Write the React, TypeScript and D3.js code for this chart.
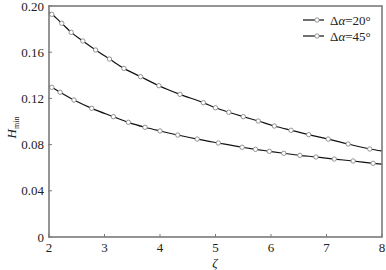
import React from 'react';
import * as d3 from 'd3';

// marker positions (zeta, Hmin)
const zeta20 = [2.05, 2.23, 2.4, 2.61, 2.84, 3.09, 3.35, 3.65, 3.98, 4.36, 4.78, 5.0, 5.24, 5.5, 5.77, 6.06, 6.36, 6.68, 7.03, 7.39, 7.78];
const h20 = [0.1928, 0.185, 0.1772, 0.1697, 0.1619, 0.1541, 0.146, 0.1388, 0.131, 0.1235, 0.1163, 0.1119, 0.108, 0.1042, 0.1004, 0.0961, 0.0924, 0.0886, 0.0848, 0.0805, 0.0762];
const zeta45 = [2.05, 2.2, 2.45, 2.77, 3.16, 3.43, 3.73, 4.0, 4.32, 4.67, 5.05, 5.48, 5.72, 5.97, 6.23, 6.52, 6.81, 7.14, 7.48, 7.84];
const h45 = [0.1296, 0.1253, 0.1186, 0.1114, 0.1042, 0.0993, 0.095, 0.0918, 0.0883, 0.0848, 0.0814, 0.0777, 0.0759, 0.0742, 0.0725, 0.0707, 0.0693, 0.0675, 0.0658, 0.0638];
// curve ends at the frame edges
const ends20 = [[2.0, 0.1945], [8.0, 0.0745]];
const ends45 = [[2.0, 0.1308], [8.0, 0.063]];

const xTicks = [2, 3, 4, 5, 6, 7, 8];
const yTicks = [0, 0.04, 0.08, 0.12, 0.16, 0.2];
const yTickLabels = ['0', '0.04', '0.08', '0.12', '0.16', '0.20'];
const seriesNames = ['20°', '45°'];

const W = 386, H = 270;
const margin = { top: 6, right: 4, bottom: 33, left: 49 };

const x = d3.scaleLinear().domain([2, 8]).range([margin.left, W - margin.right]);
const y = d3.scaleLinear().domain([0, 0.2]).range([H - margin.bottom, margin.top]);

const font = '"Liberation Serif", "Times New Roman", serif';
const axisColor = '#7a7a7a';

const line = d3.line<number[]>()
    .x(d => x(d[0]))
    .y(d => y(d[1]))
    .curve(d3.curveMonotoneX);

function pts(xs: number[], ys: number[], ends: number[][]) {
    return [ends[0], ...xs.map((v, i) => [v, ys[i]]), ends[1]];
}

const series = [
    { xs: zeta20, ys: h20, ends: ends20 },
    { xs: zeta45, ys: h45, ends: ends45 },
];

export default function App() {
    const x0 = x.range()[0], x1 = x.range()[1];
    const y0 = y.range()[0], y1 = y.range()[1];

    return (
        <svg width={W} height={H} style={{ position: 'absolute', left: 0, top: 0, background: '#fff' }}>
            {/* curves */}
            {series.map((s, i) => (
                <path key={'l' + i} d={line(pts(s.xs, s.ys, s.ends)) || ''} fill="none" stroke="#111" strokeWidth={1.2} />
            ))}
            {series.map((s, i) => (
                <g key={'m' + i}>
                    {s.xs.map((v, j) => (
                        <circle key={j} cx={x(v)} cy={y(s.ys[j])} r={2.2} fill="#fff" stroke="#888" strokeWidth={0.9} />
                    ))}
                </g>
            ))}

            {/* frame */}
            <rect x={x0} y={y1} width={x1 - x0} height={y0 - y1} fill="none" stroke={axisColor} strokeWidth={1.6} />

            {/* x ticks */}
            {xTicks.map(t => (
                <g key={'x' + t}>
                    <line x1={x(t)} x2={x(t)} y1={y0} y2={y0 - 3} stroke={axisColor} strokeWidth={1} />
                    <text x={x(t)} y={y0 + 15} textAnchor="middle" fontFamily={font} fontSize={13} fill="#222">{t}</text>
                </g>
            ))}
            {/* y ticks */}
            {yTicks.map((t, i) => (
                <g key={'y' + t}>
                    <line x1={x0 - 1} x2={x0 + 3} y1={y(t)} y2={y(t)} stroke={axisColor} strokeWidth={1} />
                    <text x={x0 - 5} y={y(t) + 4.5} textAnchor="end" fontFamily={font} fontSize={13} fill="#222">{yTickLabels[i]}</text>
                </g>
            ))}

            {/* axis titles */}
            <text x={215} y={267} textAnchor="middle" fontFamily={font} fontSize={13} fontStyle="italic" fill="#222">ζ</text>
            <text transform={`translate(16, ${y(0.1) + 6}) rotate(-90)`} textAnchor="middle" fontFamily={font} fontSize={13} fill="#222">
                <tspan fontStyle="italic">H</tspan>
                <tspan fontSize={8} dy={3}>min</tspan>
            </text>

            {/* legend */}
            {seriesNames.map((n, i) => {
                const ly = 20 + i * 16;
                return (
                    <g key={'lg' + i}>
                        <line x1={303} x2={324} y1={ly} y2={ly} stroke="#111" strokeWidth={1.2} />
                        <circle cx={317} cy={ly} r={2.2} fill="#fff" stroke="#888" strokeWidth={0.9} />
                        <text x={330} y={ly + 4.5} fontFamily={font} fontSize={13} fill="#222">
                            Δ<tspan fontStyle="italic">α</tspan>={n}
                        </text>
                    </g>
                );
            })}
        </svg>
    );
}
